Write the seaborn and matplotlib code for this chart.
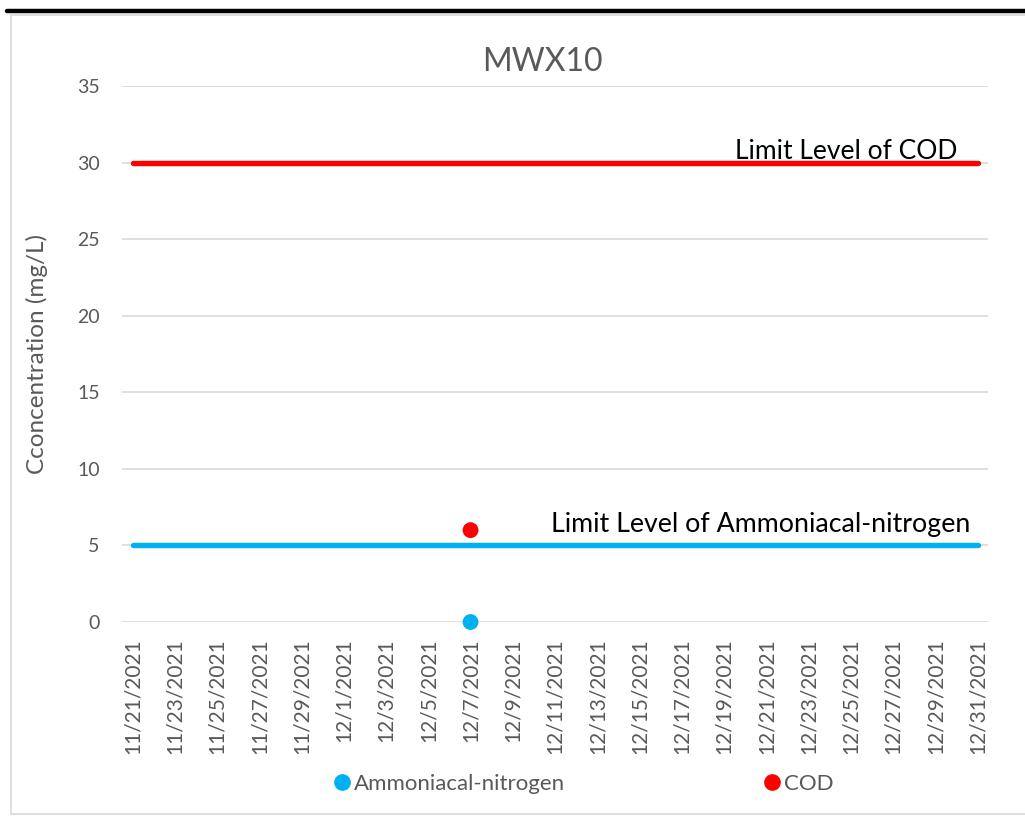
import pandas as pd
import seaborn as sns
import matplotlib.pyplot as plt
from matplotlib.lines import Line2D

# chart data
title = "MWX10"
limit_dates = ["11/21/2021", "12/31/2021"]
cod_limit = [30, 30]
nh3n_limit = [5, 5]
sample_dates = ["12/7/2021"]
nh3n_values = [0]
cod_values = [6]
tick_labels = ["11/21/2021", "11/23/2021", "11/25/2021", "11/27/2021", "11/29/2021",
               "12/1/2021", "12/3/2021", "12/5/2021", "12/7/2021", "12/9/2021",
               "12/11/2021", "12/13/2021", "12/15/2021", "12/17/2021", "12/19/2021",
               "12/21/2021", "12/23/2021", "12/25/2021", "12/27/2021", "12/29/2021",
               "12/31/2021"]
y_ticks = [0, 5, 10, 15, 20, 25, 30, 35]

BLUE = "#00B0F0"
RED = "#FF0000"
GRAY = "#595959"

sns.set_theme(style="white")
plt.rcParams["font.family"] = ["Lato", "DejaVu Sans"]

limits = pd.DataFrame({"date": pd.to_datetime(limit_dates, format="%m/%d/%Y"),
                       "cod": cod_limit, "nh3n": nh3n_limit})
samples = pd.DataFrame({"date": pd.to_datetime(sample_dates, format="%m/%d/%Y"),
                        "nh3n": nh3n_values, "cod": cod_values})

fig = plt.figure(figsize=(10.25, 8.16), dpi=100)
ax = fig.add_axes([0.119, 0.2377, 0.845, 0.6569])

sns.lineplot(data=limits, x="date", y="cod", color=RED, linewidth=3.9,
             solid_capstyle="round", ax=ax, zorder=3)
sns.lineplot(data=limits, x="date", y="nh3n", color=BLUE, linewidth=3.9,
             solid_capstyle="round", ax=ax, zorder=3)
sns.scatterplot(data=samples, x="date", y="nh3n", color=BLUE, s=130,
                edgecolor="none", ax=ax, zorder=4, clip_on=False)
sns.scatterplot(data=samples, x="date", y="cod", color=RED, s=130,
                edgecolor="none", ax=ax, zorder=4, clip_on=False)

half_day = pd.Timedelta(hours=12)
ax.set_xlim(limits["date"].min() - half_day, limits["date"].max() + half_day)
ax.set_ylim(0, 35)
ax.set_yticks(y_ticks)
ax.set_xticks(pd.to_datetime(tick_labels, format="%m/%d/%Y"))
ax.set_xticklabels(tick_labels, rotation=90)
ax.tick_params(axis="x", length=0, pad=12, labelsize=15, labelcolor=GRAY)
ax.tick_params(axis="y", length=0, pad=16, labelsize=14, labelcolor=GRAY)
ax.grid(axis="y", color="#D9D9D9", linewidth=1.2)
ax.set_axisbelow(True)
for side in ax.spines.values():
    side.set_visible(False)

ax.set_xlabel("")
ax.set_ylabel("Cconcentration (mg/L)", fontsize=17.5, color=GRAY, labelpad=21)

ax.text(0.965, 30.26, "Limit Level of COD", transform=ax.get_yaxis_transform(),
        ha="right", va="baseline", fontsize=19, color="black")
ax.text(0.979, 5.85, "Limit Level of Ammoniacal-nitrogen", transform=ax.get_yaxis_transform(),
        ha="right", va="baseline", fontsize=19.3, color="black")

fig.text(0.529, 0.924, title, ha="center", va="center", fontsize=23, color=GRAY)

handles = [Line2D([], [], marker="o", linestyle="none", color=BLUE, markersize=11),
           Line2D([], [], marker="o", linestyle="none", color=RED, markersize=11)]
fig.legend(handles, ["Ammoniacal-nitrogen", "COD"], loc="center",
           bbox_to_anchor=(0.568, 0.039), ncol=2, frameon=False, fontsize=16,
           labelcolor=GRAY, handletextpad=0.05, columnspacing=8.8, handlelength=1)

# chart frame and the black rule above it
fig.add_artist(Line2D([7 / 1025, 1], [1 - 11 / 816] * 2, color="black", linewidth=3.2))
border = dict(color="#D9D9D9", linewidth=1.2)
fig.add_artist(Line2D([11 / 1025, 1], [1 - 15 / 816] * 2, **border))
fig.add_artist(Line2D([11 / 1025] * 2, [1 - 15 / 816, 1 - 814 / 816], **border))
fig.add_artist(Line2D([11 / 1025, 1], [1 - 814 / 816] * 2, **border))

fig.savefig("out.png", dpi=100)
